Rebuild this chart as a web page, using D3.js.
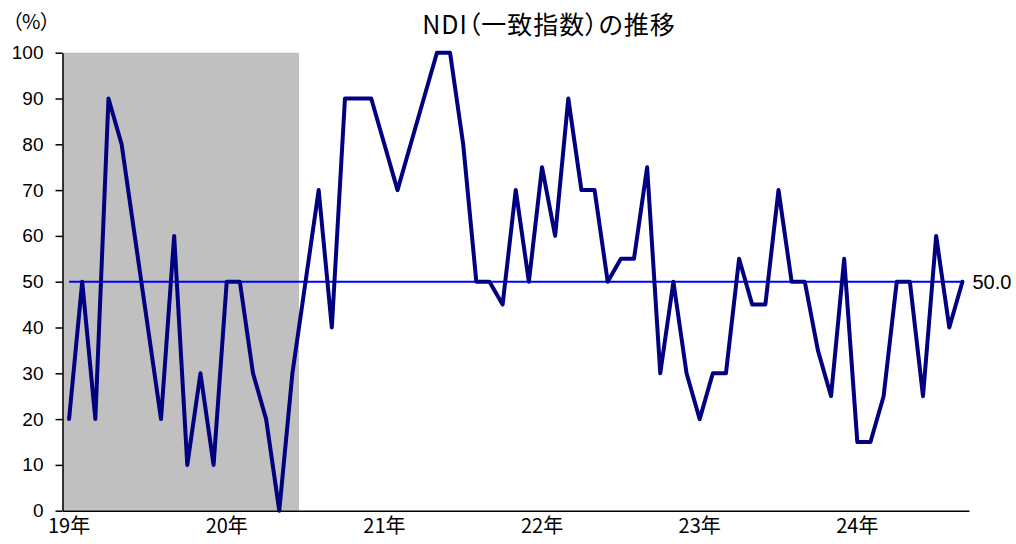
<!DOCTYPE html>
<html>
<head>
<meta charset="utf-8">
<script src="https://cdn.jsdelivr.net/npm/d3@7"></script>
<style>
  body { margin: 0; background: #fff; }
  svg { display: block; }
  .y.axis text { font-family: "Liberation Sans", Arial, sans-serif; font-size: 19px; fill: #000; }
  .x.axis text { font-family: "Noto Sans CJK JP", sans-serif; font-size: 20px; fill: #000; }
  .axis path, .axis line { stroke: #000; stroke-width: 1.5; }
  .cjk { font-family: "Noto Sans CJK JP", sans-serif; font-feature-settings: "palt"; }
</style>
</head>
<body>
<svg class="chart"></svg>
<script>
// NDI monthly, 2019/01 - 2024/09
var months = [];
for (var yr = 2019; yr <= 2024; yr++) {
  for (var m = 1; m <= 12; m++) {
    if (yr === 2024 && m > 9) break;
    months.push(yr + "-" + (m < 10 ? "0" + m : m));
  }
}

var ndiValues = [
  20, 50, 20, 90, 80, 60, 40, 20, 60, 10, 30, 10,   // 2019
  50, 50, 30, 20, 0, 30, 50, 70, 40, 90, 90, 90,    // 2020
  80, 70, 80, 90, 100, 100, 80, 50, 50, 45, 70, 50, // 2021
  75, 60, 90, 70, 70, 50, 55, 55, 75, 30, 50, 30,   // 2022
  20, 30, 30, 55, 45, 45, 70, 50, 50, 35, 25, 55,   // 2023
  15, 15, 25, 50, 50, 25, 60, 40, 50                // 2024
];

// shaded period (recession): 2019-01 .. 2020-06
var shadeMonths = ["2019-01", "2020-06"];

var yTicks = [0, 10, 20, 30, 40, 50, 60, 70, 80, 90, 100];
var yearTicks = ["2019-01", "2020-01", "2021-01", "2022-01", "2023-01", "2024-01"];
var yearLabels = ["19年", "20年", "21年", "22年", "23年", "24年"];
var refValue = 50;

//set up chart
var width = 1016;
var height = 544;
var plot = {left: 62.5, right: 969, top: 52.7, bottom: 510.7};

var svg = d3.select(".chart")
  .attr("width", width)
  .attr("height", height);

var xChart = d3.scaleBand()
  .domain(months)
  .range([plot.left, plot.right])
  .paddingInner(0)
  .paddingOuter(0);

var yChart = d3.scaleLinear()
  .domain([0, 100])
  .range([plot.bottom, plot.top]);

function cx(d) { return xChart(d) + xChart.bandwidth() / 2; }

//shaded period
svg.append("rect")
  .attr("x", xChart(shadeMonths[0]))
  .attr("y", yChart(100))
  .attr("width", xChart(shadeMonths[1]) + xChart.bandwidth() - xChart(shadeMonths[0]))
  .attr("height", yChart(0) - yChart(100))
  .attr("fill", "#c0c0c0");

//50 line
svg.append("line")
  .attr("x1", cx(months[0]))
  .attr("x2", cx(months[months.length - 1]))
  .attr("y1", yChart(refValue))
  .attr("y2", yChart(refValue))
  .attr("stroke", "#0000ff")
  .attr("stroke-width", 2);

svg.append("text")
  .attr("x", cx(months[months.length - 1]) + 10)
  .attr("y", yChart(refValue))
  .attr("dy", "0.35em")
  .style("font-family", "'Liberation Sans', Arial, sans-serif")
  .style("font-size", "20px")
  .text(refValue.toFixed(1));

//ndi line
var line = d3.line()
  .x(function(d, i) { return cx(months[i]); })
  .y(function(d) { return yChart(d); });

svg.append("path")
  .datum(ndiValues)
  .attr("fill", "none")
  .attr("stroke", "#000080")
  .attr("stroke-width", 4)
  .attr("stroke-linejoin", "round")
  .attr("stroke-linecap", "round")
  .attr("d", line);

//left axis
svg.append("g")
  .attr("class", "y axis")
  .attr("transform", "translate(" + plot.left + ",0)")
  .call(d3.axisLeft(yChart).tickValues(yTicks).tickSize(7).tickSizeOuter(0).tickPadding(12));

//bottom axis
svg.append("g")
  .attr("class", "x axis")
  .attr("transform", "translate(0," + plot.bottom + ")")
  .call(d3.axisBottom(xChart)
    .tickValues(yearTicks)
    .tickSize(0)
    .tickPadding(8)
    .tickFormat(function(d) { return yearLabels[yearTicks.indexOf(d)]; }));

//labels
svg.append("text")
  .attr("class", "cjk")
  .attr("x", 12)
  .attr("y", 29)
  .style("font-size", "20px")
  .text("（%）");

svg.append("text")
  .attr("class", "cjk")
  .attr("x", 549)
  .attr("y", 34)
  .attr("text-anchor", "middle")
  .style("font-size", "25px")
  .style("letter-spacing", "1px")
  .text("NDI（一致指数）の推移");
</script>
</body>
</html>
